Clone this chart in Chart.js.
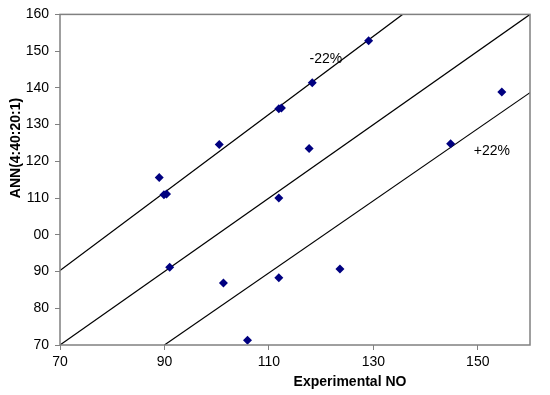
<!DOCTYPE html>
<html>
<head>
<meta charset="utf-8">
<script src="https://cdn.jsdelivr.net/npm/chart.js@4"></script>
<style>
  html, body { margin: 0; padding: 0; background: #fff; }
  #wrap { width: 550px; height: 395px; }
</style>
</head>
<body>
<div id="wrap"><canvas id="myChart" width="550" height="395"></canvas></div>
<script>
// measured points (experimental NO vs ANN prediction)
const expNO = [89.0, 89.9, 90.4, 100.5, 111.9, 112.4, 117.7, 111.9, 129.1, 118.3, 154.6, 144.8, 91.0, 101.3, 111.9, 105.9, 123.6];
const annNO = [115.6, 110.9, 111.1, 124.6, 134.3, 134.5, 123.5, 110.0, 152.8, 141.4, 138.9, 124.8, 91.2, 86.9, 88.3, 71.3, 90.7];

// reference lines
const lineMinus = [[70, 90.3], [135.6, 160]];
const lineMid = [[70, 70], [160, 160]];
const linePlus = [[90, 70], [160, 138.7]];

const xTicks = [70, 90, 110, 130, 150];
const yTicks = [70, 80, 90, 100, 110, 120, 130, 140, 150, 160];
const yTickLabels = ['70', '80', '90', '00', '110', '120', '130', '140', '150', '160'];

const notes = [{ text: '-22%', x: 120.9, y: 147.9 }, { text: '+22%', x: 152.7, y: 122.9 }];

const ctx = document.getElementById('myChart');
const font = 'Liberation Sans, Arial, sans-serif';

const pts = expNO.map((v, i) => ({ x: v, y: annNO[i] }));
const toXY = arr => arr.map(p => ({ x: p[0], y: p[1] }));

function lineSet(arr) {
  return {
    type: 'scatter',
    data: toXY(arr),
    showLine: true,
    borderColor: '#000',
    borderWidth: 1.2,
    pointRadius: 0,
    fill: false
  };
}

const extras = {
  id: 'extras',
  afterDraw(chart) {
    const c = chart.ctx;
    const a = chart.chartArea;
    const xs = chart.scales.x, ys = chart.scales.y;
    c.save();
    c.strokeStyle = '#808080';
    c.lineWidth = 1.5;
    c.strokeRect(a.left, a.top, a.right - a.left, a.bottom - a.top);
    c.fillStyle = '#000';
    c.font = '14px ' + font;
    c.textAlign = 'center';
    c.textBaseline = 'middle';
    notes.forEach(n => c.fillText(n.text, xs.getPixelForValue(n.x), ys.getPixelForValue(n.y)));
    // axis titles
    c.font = 'bold 14px ' + font;
    c.fillText('Experimental NO', 350, 382);
    c.translate(16, 148);
    c.rotate(-Math.PI / 2);
    c.fillText('ANN(4:40:20:1)', 0, 0);
    c.restore();
  }
};

new Chart(ctx, {
  type: 'scatter',
  data: {
    datasets: [
      {
        data: pts,
        pointStyle: 'rectRot',
        pointRadius: 4.5,
        backgroundColor: '#000080',
        borderColor: '#000080',
        borderWidth: 0
      },
      lineSet(lineMinus),
      lineSet(lineMid),
      lineSet(linePlus)
    ]
  },
  options: {
    responsive: false,
    animation: false,
    layout: { padding: { top: 10, right: 20, left: 0, bottom: 0 } },
    plugins: { legend: { display: false }, tooltip: { enabled: false } },
    scales: {
      x: {
        type: 'linear',
        min: 70,
        max: 160,
        afterBuildTicks: s => { s.ticks = xTicks.map(v => ({ value: v })); },
        afterFit: s => { s.height = 50; },
        border: { display: false },
        grid: { drawOnChartArea: false, drawTicks: true, tickLength: 5, color: '#808080' },
        ticks: { color: '#000', font: { family: font, size: 14 }, padding: 4, maxRotation: 0 }
      },
      y: {
        type: 'linear',
        min: 70,
        max: 160,
        afterBuildTicks: s => { s.ticks = yTicks.map(v => ({ value: v })); },
        afterFit: s => { s.width = 60; },
        border: { display: false },
        grid: { drawOnChartArea: false, drawTicks: true, tickLength: 5, color: '#808080' },
        ticks: {
          color: '#000',
          font: { family: font, size: 14 },
          padding: 6,
          callback: (v, i) => yTickLabels[i]
        }
      }
    }
  },
  plugins: [extras]
});
</script>
</body>
</html>
